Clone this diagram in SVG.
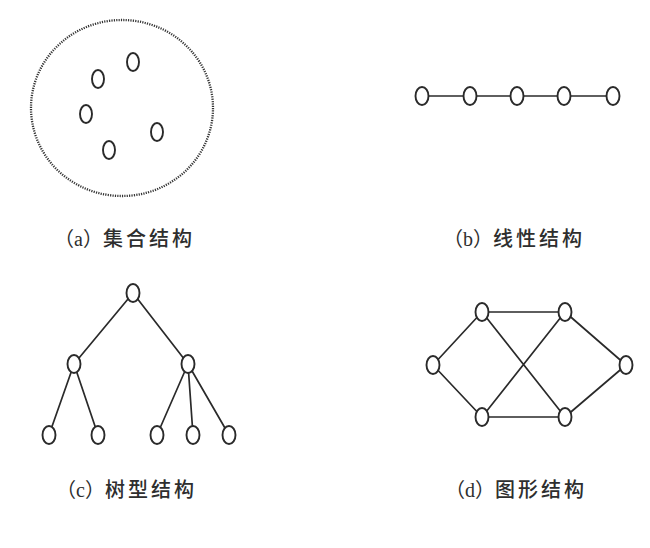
<svg xmlns="http://www.w3.org/2000/svg" width="650" height="548" viewBox="0 0 650 548">
<style>
.n{fill:#fff;stroke:#2a2a2a;stroke-width:1.9}
.e{stroke:#2a2a2a;stroke-width:1.7;fill:none}
.lbl{font-family:"Liberation Serif","Noto Sans CJK SC",serif;font-size:20px;fill:#2e2e2e}
.p{font-family:"Noto Sans CJK SC",sans-serif}
.cj{font-family:"Noto Sans CJK SC",sans-serif;font-weight:500;letter-spacing:3px}
</style>
<rect width="650" height="548" fill="#fff"/>
<g id="set">
<ellipse cx="122" cy="108" rx="91" ry="88" fill="none" stroke="#333" stroke-width="2.3" stroke-dasharray="1.2 1.2"/>
<ellipse class="n" cx="133" cy="62" rx="6" ry="9"/>
<ellipse class="n" cx="98" cy="79" rx="6" ry="9"/>
<ellipse class="n" cx="86" cy="114" rx="6" ry="9"/>
<ellipse class="n" cx="157" cy="132" rx="6" ry="9"/>
<ellipse class="n" cx="109" cy="150" rx="6" ry="9"/>
</g>
<g id="connectors">
<path class="e" d="M422 96H613"/>
<path class="e" d="M133 293L74 364M133 293L188 364M74 364L49 435M74 364L98 435M188 364L157 435M188 364L193 435M188 364L229 435"/>
<path class="e" d="M482 312H565M433 365L482 312M433 365L482 417M482 312L565 417M565 312L482 417M565 312L626 365M626 365L565 417M482 417H565"/>
</g>
<g id="linear">
<ellipse class="n" cx="422" cy="96" rx="6.5" ry="9"/>
<ellipse class="n" cx="470" cy="96" rx="6.5" ry="9"/>
<ellipse class="n" cx="517" cy="96" rx="6.5" ry="9"/>
<ellipse class="n" cx="564" cy="96" rx="6.5" ry="9"/>
<ellipse class="n" cx="613" cy="96" rx="6.5" ry="9"/>
</g>
<g id="tree">
<ellipse class="n" cx="133" cy="293" rx="6.5" ry="9"/>
<ellipse class="n" cx="74" cy="364" rx="6.5" ry="9"/>
<ellipse class="n" cx="188" cy="364" rx="6.5" ry="9"/>
<ellipse class="n" cx="49" cy="435" rx="6.5" ry="9"/>
<ellipse class="n" cx="98" cy="435" rx="6.5" ry="9"/>
<ellipse class="n" cx="157" cy="435" rx="6.5" ry="9"/>
<ellipse class="n" cx="193" cy="435" rx="6.5" ry="9"/>
<ellipse class="n" cx="229" cy="435" rx="6.5" ry="9"/>
</g>
<g id="graph">
<ellipse class="n" cx="482" cy="312" rx="6.5" ry="9"/>
<ellipse class="n" cx="565" cy="312" rx="6.5" ry="9"/>
<ellipse class="n" cx="433" cy="365" rx="6.5" ry="9"/>
<ellipse class="n" cx="626" cy="365" rx="6.5" ry="9"/>
<ellipse class="n" cx="482" cy="417" rx="6.5" ry="9"/>
<ellipse class="n" cx="565" cy="417" rx="6.5" ry="9"/>
</g>
<g id="labels">
<text class="lbl" x="54" y="246"><tspan class="p">（</tspan>a<tspan class="p">）</tspan><tspan class="cj">集合结构</tspan></text>
<text class="lbl" x="443" y="246"><tspan class="p">（</tspan>b<tspan class="p">）</tspan><tspan class="cj">线性结构</tspan></text>
<text class="lbl" x="56" y="497"><tspan class="p">（</tspan>c<tspan class="p">）</tspan><tspan class="cj">树型结构</tspan></text>
<text class="lbl" x="445" y="497"><tspan class="p">（</tspan>d<tspan class="p">）</tspan><tspan class="cj">图形结构</tspan></text>
</g>
</svg>
